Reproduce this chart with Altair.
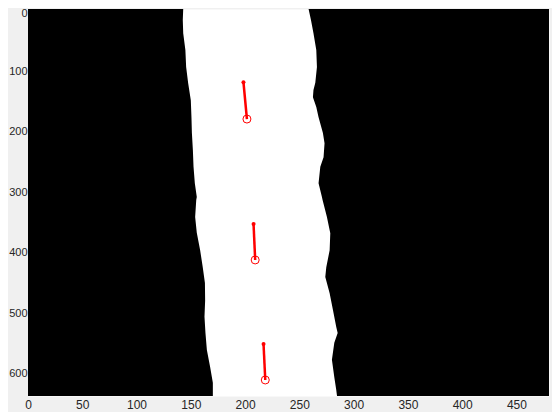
import altair as alt
import pandas as pd

# tick labels
x_ticks = [0, 50, 100, 150, 200, 250, 300, 350, 400, 450]
y_ticks = [0, 100, 200, 300, 400, 500, 600]

# left border of the white band (row, column)
left_y = [-3, 15, 37, 65, 93, 119, 148, 176, 202, 230, 258, 285, 308,
          313, 341, 367, 396, 424, 450, 479, 506, 533, 561, 589, 615, 637]
left_x = [143, 142.6, 143, 145, 145.7, 147.5, 150, 150.6, 151, 151.9, 152.5,
          153.7, 155.5, 155, 154, 155.5, 158.6, 161, 163, 163.2, 162.6,
          163.5, 164.8, 167.8, 170.3, 170.3]

# right border of the white band
right_y = [-3, 15, 37, 65, 93, 119, 131, 143, 159, 176, 202, 219, 242, 258,
           285, 308, 313, 341, 368, 396, 424, 440, 467, 495, 523, 533, 549,
           577, 606, 627, 637]
right_x = [258.5, 260.7, 263, 265.6, 266.2, 264.7, 263, 262.5, 265.6, 267.7,
           271.7, 273.2, 272.3, 269.3, 267.7, 270.8, 271.4, 275.4, 278.5,
           277.9, 274.8, 273.9, 277.9, 281, 284, 285.3, 282.2, 280, 282.2,
           284, 284.7]

# red segments: start dot -> end circle
start_x = [198.5, 207.8, 217]
start_y = [118, 352.5, 551]
end_x = [201.7, 209.3, 218.6]
end_y = [179, 412, 610.5]

left = pd.DataFrame({"y": left_y, "edge": left_x, "wall": 0})
right = pd.DataFrame({"y": right_y, "edge": right_x, "wall": 480})
segs = pd.DataFrame({
    "seg": [1, 1, 2, 2, 3, 3],
    "x": [v for pair in zip(start_x, end_x) for v in pair],
    "y": [v for pair in zip(start_y, end_y) for v in pair],
})
starts = pd.DataFrame({"x": start_x, "y": start_y})
ends = pd.DataFrame({"x": end_x, "y": end_y})

font = "Liberation Sans"
xs = alt.Scale(domain=[0, 480], nice=False, zero=False)
ys = alt.Scale(domain=[-3, 637], nice=False, zero=False, reverse=True)
x_axis = alt.Axis(values=x_ticks, title=None, grid=False, domain=False, ticks=False,
                  labelFontSize=12, labelPadding=3, labelFlush=False,
                  labelOverlap=False, labelFont=font, labelColor="#262626")
# the "0" at the very top is nudged down so it stays inside the page
y_axis = alt.Axis(values=y_ticks, title=None, grid=False, domain=False, ticks=False,
                  labelFontSize=11, labelPadding=1, labelOverlap=False,
                  labelOffset={"condition": {"test": "datum.value == 0", "value": 3},
                               "value": 0},
                  labelFont=font, labelColor="#262626")


def xy(xfield, yfield):
    return dict(x=alt.X(xfield, scale=xs, axis=x_axis),
                y=alt.Y(yfield, scale=ys, axis=y_axis))


left_wall = alt.Chart(left).mark_area(orient="horizontal", color="black", clip=True).encode(
    x2="edge:Q", **xy("wall:Q", "y:Q"))
right_wall = alt.Chart(right).mark_area(orient="horizontal", color="black", clip=True).encode(
    x2="edge:Q", **xy("wall:Q", "y:Q"))

lines = alt.Chart(segs).mark_line(color="#ff0000", strokeWidth=2.5).encode(
    detail="seg:N", **xy("x:Q", "y:Q"))
dots = alt.Chart(starts).mark_circle(color="#ff0000", size=16, opacity=1).encode(
    **xy("x:Q", "y:Q"))
rings = alt.Chart(ends).mark_point(shape="circle", filled=False, color="#ff0000",
                                   size=64, strokeWidth=1, opacity=1).encode(
    **xy("x:Q", "y:Q"))

chart = alt.layer(left_wall, right_wall, lines, dots, rings).properties(
    width=521,
    height=387,
    autosize="none",
    padding={"left": 20, "top": 1, "right": 3, "bottom": 16},
).configure(
    background="#f0f0f0"
).configure_view(
    fill="white",
    stroke="transparent"
)

chart.save("out.html", embed_options={"renderer": "svg", "actions": False})
